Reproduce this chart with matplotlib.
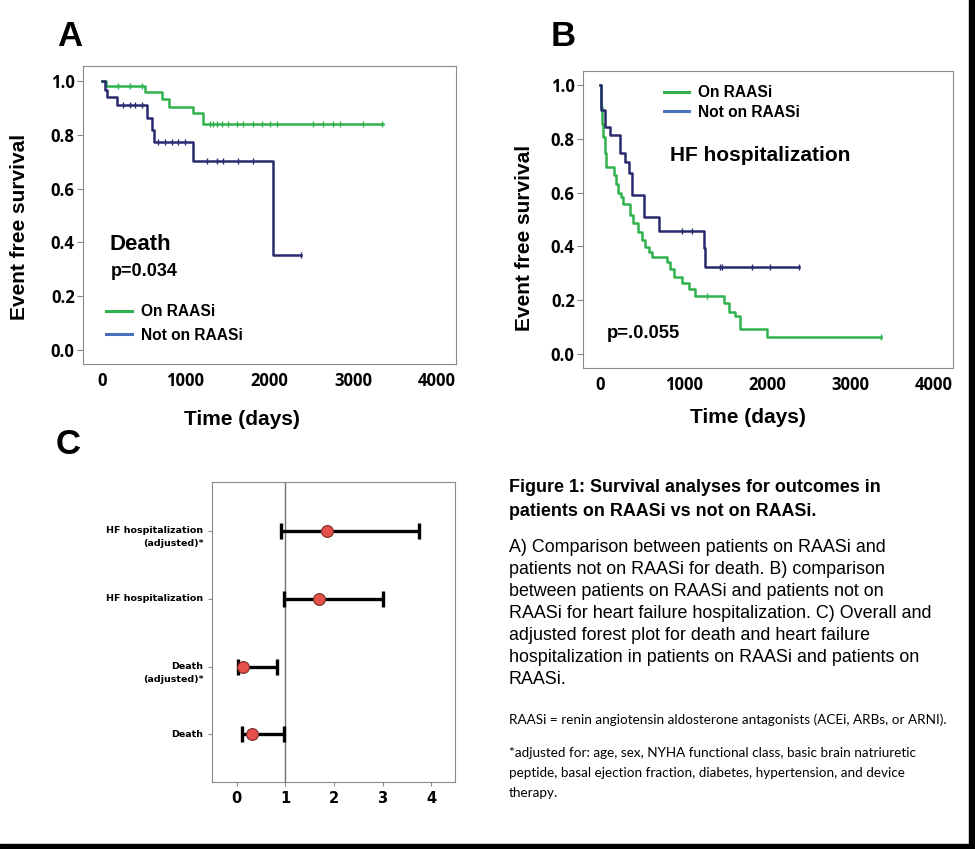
import numpy as np
import matplotlib
matplotlib.use('Agg')
from matplotlib import pyplot as plt
from matplotlib.lines import Line2D
from matplotlib.patches import Rectangle
import matplotlib.transforms as mtransforms

# --- data -------------------------------------------------------------
# A) death, Kaplan-Meier steps (days, survival)
a_on_t = [0, 52, 517, 716, 807, 1094, 1213, 3355]
a_on_s = [1.0, 0.983, 0.96, 0.933, 0.904, 0.88, 0.839, 0.839]
a_on_cens = [198, 338, 478, 1293, 1333, 1373, 1432, 1512, 1611, 1691, 1810,
             1910, 2010, 2089, 2527, 2646, 2766, 2846, 3124, 3344]
a_off_t = [0, 39, 60, 179, 537, 597, 625, 1086, 2041, 2376]
a_off_s = [1.0, 0.967, 0.942, 0.911, 0.861, 0.818, 0.774, 0.704, 0.353, 0.353]
a_off_cens = [258, 338, 398, 478, 676, 756, 836, 915, 995,
              1253, 1373, 1452, 1631, 1810, 2376]

# B) HF hospitalization
b_on_t = [0, 12, 24, 40, 60, 72, 168, 192, 220, 248, 280, 360, 400, 460, 500,
          540, 580, 620, 800, 840, 888, 980, 1060, 1140, 1480, 1540, 1620,
          1680, 2000, 3361]
b_on_s = [1.0, 0.92, 0.857, 0.808, 0.746, 0.694, 0.665, 0.634, 0.597, 0.585,
          0.558, 0.517, 0.486, 0.455, 0.424, 0.399, 0.38, 0.362, 0.343, 0.318,
          0.287, 0.265, 0.24, 0.216, 0.188, 0.157, 0.141, 0.092, 0.062, 0.062]
b_on_cens = [1280, 3361]
b_off_t = [0, 8, 60, 120, 240, 300, 352, 380, 528, 708, 1248, 1256, 2380]
b_off_s = [1.0, 0.907, 0.845, 0.814, 0.746, 0.715, 0.672, 0.591, 0.51, 0.458,
           0.393, 0.325, 0.325]
b_off_cens = [980, 1100, 1440, 1460, 1820, 2040, 2380]

# C) forest plot
c_labels = ['Death', 'Death\n(adjusted)*', 'HF hospitalization',
            'HF hospitalization\n(adjusted)*']
c_est = [0.31, 0.12, 1.70, 1.86]
c_lo = [0.10, 0.02, 0.97, 0.91]
c_hi = [0.97, 0.82, 3.00, 3.75]

GREEN = '#2fb24e'
NAVY = '#29296e'
LEG_BLUE = '#4a72bb'
GRAY = '#8a8a8a'

plt.rcParams['font.family'] = ['Liberation Sans', 'DejaVu Sans']

W, H = 975, 849
fig = plt.figure(figsize=(9.75, 8.49), dpi=100)


def px(x, y):
    return x / W, 1 - y / H


def km(ax, t, s, cens, color):
    ax.step(t, s, where='post', color=color, lw=1.8, zorder=3)
    idx = np.searchsorted(t, cens, side='right') - 1
    ax.plot(cens, np.array(s)[idx], ls='none', marker='|', ms=4, mew=1,
            color=color, zorder=3)


def km_axes(ax, xlim, ylim):
    ax.set_xlim(*xlim)
    ax.set_ylim(*ylim)
    ax.set_xticks([0, 1000, 2000, 3000, 4000])
    ax.set_yticks([0, 0.2, 0.4, 0.6, 0.8, 1.0])
    ax.set_yticklabels(['0.0', '0.2', '0.4', '0.6', '0.8', '1.0'])
    for sp in ax.spines.values():
        sp.set_color(GRAY)
    ax.tick_params(axis='y', colors=GRAY, length=4, pad=2, labelcolor='black')
    ax.tick_params(axis='x', length=0, pad=6, labelcolor='black')
    for lab in ax.get_xticklabels() + ax.get_yticklabels():
        lab.set_fontweight('bold')
        lab.set_fontsize(12)
        lab.set_family('Open Sans')


handles = [Line2D([], [], color=GREEN, lw=2.2),
           Line2D([], [], color=LEG_BLUE, lw=2.2)]
leg_labels = ['On RAASi', 'Not on RAASi']
leg_font = {'weight': 'bold', 'size': 11.2}

# panel A
axA = fig.add_axes([0.0851, 0.5713, 0.3826, 0.351])
km(axA, a_on_t, a_on_s, a_on_cens, GREEN)
km(axA, a_off_t, a_off_s, a_off_cens, NAVY)
km_axes(axA, (-223, 4230), (-0.052, 1.056))
axA.text(0.07, 0.40, 'Death', transform=axA.transAxes, fontsize=16,
         fontweight='bold', va='center')
axA.text(0.075, 0.31, 'p=0.034', transform=axA.transAxes, fontsize=13,
         fontweight='bold', va='center')
axA.legend(handles, leg_labels, loc='lower left', bbox_to_anchor=(0.025, 0.025),
           frameon=False, prop=leg_font,
           handlelength=1.65, handletextpad=0.55, labelspacing=0.55)
fig.text(*px(242, 420), 'Time (days)', fontsize=15, fontweight='bold',
         ha='center', va='center')
fig.text(*px(20, 227), 'Event free survival', fontsize=15, fontweight='bold',
         ha='center', va='center', rotation=90)

# panel B
axB = fig.add_axes([0.598, 0.5665, 0.3795, 0.3498])
km(axB, b_on_t, b_on_s, b_on_cens, GREEN)
km(axB, b_off_t, b_off_s, b_off_cens, NAVY)
km_axes(axB, (-204, 4228), (-0.052, 1.052))
axB.text(0.235, 0.715, 'HF hospitalization', transform=axB.transAxes,
         fontsize=15, fontweight='bold', va='center')
axB.text(0.065, 0.115, 'p=.0.055', transform=axB.transAxes, fontsize=13.3,
         fontweight='bold', va='center')
axB.legend(handles, leg_labels, loc='upper left', bbox_to_anchor=(0.18, 1.0),
           frameon=False, prop=leg_font,
           handlelength=1.65, handletextpad=0.55, labelspacing=0.3)
fig.text(*px(748, 418), 'Time (days)', fontsize=15, fontweight='bold',
         ha='center', va='center')
fig.text(*px(525, 238), 'Event free survival', fontsize=15, fontweight='bold',
         ha='center', va='center', rotation=90)

# panel C
axC = fig.add_axes([0.2174, 0.0789, 0.2492, 0.3534])
rows = np.arange(1, len(c_labels) + 1)
est = np.array(c_est)
axC.errorbar(est, rows, xerr=[est - np.array(c_lo), np.array(c_hi) - est],
             fmt='none', ecolor='black', elinewidth=2.4, capsize=6,
             capthick=2.4, zorder=3)
axC.plot(est, rows, 'o', ms=8.5, mfc='#e5504a', mec='#7a2a26', mew=0.8,
         zorder=4)
axC.axvline(1, color='#707070', lw=1, zorder=1)
axC.set_xlim(-0.51, 4.49)
axC.set_ylim(0.3, 4.72)
axC.set_xticks([0, 1, 2, 3, 4])
axC.set_yticks(rows)
axC.set_yticklabels([])
for sp in axC.spines.values():
    sp.set_color(GRAY)
axC.tick_params(axis='both', colors=GRAY, length=3, labelcolor='black')
for lab in axC.get_xticklabels():
    lab.set_fontweight('bold')
    lab.set_fontsize(10.5)
    lab.set_family('DejaVu Sans')
trans = mtransforms.blended_transform_factory(axC.transAxes, axC.transData)
for y, lab in zip(rows, c_labels):
    lines = lab.split('\n')
    axC.text(-0.035, y, lines[0], transform=trans, ha='right', va='center',
             fontsize=6.8, fontweight='bold', family='DejaVu Sans')
    if len(lines) > 1:
        axC.text(-0.035, y - 0.19, lines[1], transform=trans, ha='right',
                 va='center', fontsize=6.8, fontweight='bold',
                 family='DejaVu Sans')

# panel letters
fig.text(*px(70, 37), 'A', fontsize=25, fontweight='bold',
         ha='center', va='center')
fig.text(*px(563, 37), 'B', fontsize=25, fontweight='bold',
         ha='center', va='center')
fig.text(*px(68, 445), 'C', fontsize=25, fontweight='bold',
         ha='center', va='center')

# caption
x0 = 509
title_lines = ['Figure 1: Survival analyses for outcomes in',
               'patients on RAASi vs not on RAASi.']
for i, ln in enumerate(title_lines):
    fig.text(*px(x0, 488 + 24 * i), ln, fontsize=12.9, fontweight='bold',
             va='center')
body_lines = ['A) Comparison between patients on RAASi and',
              'patients not on RAASi for death. B) comparison',
              'between patients on RAASi and patients not on',
              'RAASi for heart failure hospitalization. C) Overall and',
              'adjusted forest plot for death and heart failure',
              'hospitalization in patients on RAASi and patients on',
              'RAASi.']
for i, ln in enumerate(body_lines):
    fig.text(*px(x0, 547 + 22 * i), ln, fontsize=12.9, va='center')
fig.text(*px(x0, 720),
         'RAASi = renin angiotensin aldosterone antagonists (ACEi, ARBs, or ARNI).',
         fontsize=9.7, va='center', family='Lato')
foot = ['*adjusted for: age, sex, NYHA functional class, basic brain natriuretic',
        'peptide, basal ejection fraction, diabetes, hypertension, and device',
        'therapy.']
for i, ln in enumerate(foot):
    fig.text(*px(x0, 753 + 20 * i), ln, fontsize=9.7, va='center',
             family='Lato')

# black frame on right and bottom edges
fig.patches.append(Rectangle((969 / W, 0), 6 / W, 1, color='black',
                             transform=fig.transFigure, figure=fig))
fig.patches.append(Rectangle((0, 0), 1, 5 / H, color='black',
                             transform=fig.transFigure, figure=fig))

fig.savefig('out.png', dpi=100)
